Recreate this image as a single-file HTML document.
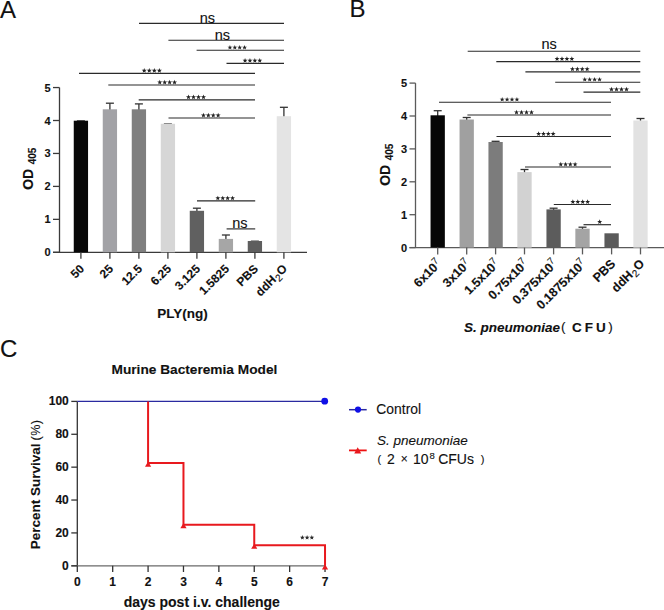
<!DOCTYPE html>
<html><head><meta charset="utf-8"><style>
html,body{margin:0;padding:0;background:#fff;}
svg{display:block;}
text{font-family:"Liberation Sans", sans-serif;}
svg text{stroke:#111;stroke-width:0.12;}
</style></head><body>
<svg width="664" height="610" viewBox="0 0 664 610">
<rect width="664" height="610" fill="#fff"/>
<text x="0" y="18" font-size="24" fill="#111">A</text>
<text x="349.5" y="17.2" font-size="24" fill="#111">B</text>
<text x="0" y="357.4" font-size="24" fill="#111">C</text>
<g stroke="#3a3a3a" stroke-width="1.3" fill="none">
<line x1="59.5" y1="87.55" x2="59.5" y2="252.3"/>
<line x1="53" y1="252.3" x2="307" y2="252.3"/>
<line x1="53" y1="252.30" x2="59.5" y2="252.30"/>
<line x1="53" y1="219.35" x2="59.5" y2="219.35"/>
<line x1="53" y1="186.40" x2="59.5" y2="186.40"/>
<line x1="53" y1="153.45" x2="59.5" y2="153.45"/>
<line x1="53" y1="120.50" x2="59.5" y2="120.50"/>
<line x1="53" y1="87.55" x2="59.5" y2="87.55"/>
</g>
<g font-size="11" font-weight="bold" fill="#111" text-anchor="end">
<text x="50.5" y="256.30">0</text>
<text x="50.5" y="223.35">1</text>
<text x="50.5" y="190.40">2</text>
<text x="50.5" y="157.45">3</text>
<text x="50.5" y="124.50">4</text>
<text x="50.5" y="91.55">5</text>
</g>
<line x1="76.90" y1="120.7" x2="84.90" y2="120.7" stroke="#444" stroke-width="1"/>
<rect x="73.75" y="120.7" width="14.3" height="131.60" fill="#080808"/>
<g stroke="#333" stroke-width="1.3"><line x1="109.90" y1="103.2" x2="109.90" y2="110.3"/><line x1="105.90" y1="103.2" x2="113.90" y2="103.2"/></g>
<rect x="102.75" y="109.3" width="14.3" height="143.00" fill="#a2a2a6"/>
<g stroke="#333" stroke-width="1.3"><line x1="138.90" y1="103.9" x2="138.90" y2="110.3"/><line x1="134.90" y1="103.9" x2="142.90" y2="103.9"/></g>
<rect x="131.75" y="109.3" width="14.3" height="143.00" fill="#7f7f7f"/>
<line x1="163.90" y1="123.8" x2="171.90" y2="123.8" stroke="#444" stroke-width="1"/>
<rect x="160.75" y="123.8" width="14.3" height="128.50" fill="#d6d6d6"/>
<g stroke="#333" stroke-width="1.3"><line x1="196.90" y1="208.2" x2="196.90" y2="211.8"/><line x1="192.90" y1="208.2" x2="200.90" y2="208.2"/></g>
<rect x="189.75" y="210.8" width="14.3" height="41.50" fill="#606060"/>
<g stroke="#333" stroke-width="1.3"><line x1="225.90" y1="235.0" x2="225.90" y2="239.9"/><line x1="221.90" y1="235.0" x2="229.90" y2="235.0"/></g>
<rect x="218.75" y="238.9" width="14.3" height="13.40" fill="#a6a6a6"/>
<line x1="250.90" y1="241.0" x2="258.90" y2="241.0" stroke="#444" stroke-width="1"/>
<rect x="247.75" y="241.0" width="14.3" height="11.30" fill="#5e5e5e"/>
<g stroke="#333" stroke-width="1.3"><line x1="283.90" y1="107.3" x2="283.90" y2="117.2"/><line x1="279.90" y1="107.3" x2="287.90" y2="107.3"/></g>
<rect x="276.75" y="116.2" width="14.3" height="136.10" fill="#e4e4e4"/>
<g stroke="#3a3a3a" stroke-width="1.3">
<line x1="80.90" y1="252.3" x2="80.90" y2="258.7"/>
<line x1="109.90" y1="252.3" x2="109.90" y2="258.7"/>
<line x1="138.90" y1="252.3" x2="138.90" y2="258.7"/>
<line x1="167.90" y1="252.3" x2="167.90" y2="258.7"/>
<line x1="196.90" y1="252.3" x2="196.90" y2="258.7"/>
<line x1="225.90" y1="252.3" x2="225.90" y2="258.7"/>
<line x1="254.90" y1="252.3" x2="254.90" y2="258.7"/>
<line x1="283.90" y1="252.3" x2="283.90" y2="258.7"/>
</g>
<line x1="139" y1="23.4" x2="284" y2="23.4" stroke="#2a2a2a" stroke-width="1.15"/>
<text x="207.35" y="22.80" font-size="14.5" text-anchor="middle" fill="#111">ns</text>
<line x1="168.4" y1="40.2" x2="284" y2="40.2" stroke="#2a2a2a" stroke-width="1.15"/>
<text x="222.40" y="39.60" font-size="14.5" text-anchor="middle" fill="#111">ns</text>
<line x1="196.6" y1="50.2" x2="284" y2="50.2" stroke="#2a2a2a" stroke-width="1.15"/>
<g fill="#222"><polygon points="229.94,44.96 230.57,46.66 232.38,46.73 230.96,47.86 231.44,49.60 229.94,48.60 228.43,49.60 228.91,47.86 227.50,46.73 229.30,46.66"/><polygon points="234.81,44.96 235.45,46.66 237.25,46.73 235.84,47.86 236.32,49.60 234.81,48.60 233.31,49.60 233.79,47.86 232.38,46.73 234.18,46.66"/><polygon points="239.69,44.96 240.32,46.66 242.12,46.73 240.71,47.86 241.19,49.60 239.69,48.60 238.18,49.60 238.66,47.86 237.25,46.73 239.05,46.66"/><polygon points="244.56,44.96 245.20,46.66 247.00,46.73 245.59,47.86 246.07,49.60 244.56,48.60 243.06,49.60 243.54,47.86 242.12,46.73 243.93,46.66"/></g>
<line x1="226.5" y1="63.3" x2="284" y2="63.3" stroke="#2a2a2a" stroke-width="1.15"/>
<g fill="#222"><polygon points="245.05,58.04 245.69,59.74 247.50,59.82 246.08,60.95 246.56,62.70 245.05,61.70 243.54,62.70 244.02,60.95 242.60,59.82 244.41,59.74"/><polygon points="249.95,58.04 250.59,59.74 252.40,59.82 250.98,60.95 251.46,62.70 249.95,61.70 248.44,62.70 248.92,60.95 247.50,59.82 249.31,59.74"/><polygon points="254.85,58.04 255.49,59.74 257.30,59.82 255.88,60.95 256.36,62.70 254.85,61.70 253.34,62.70 253.82,60.95 252.40,59.82 254.21,59.74"/><polygon points="259.75,58.04 260.39,59.74 262.20,59.82 260.78,60.95 261.26,62.70 259.75,61.70 258.24,62.70 258.72,60.95 257.30,59.82 259.11,59.74"/></g>
<line x1="79" y1="73.3" x2="255" y2="73.3" stroke="#2a2a2a" stroke-width="1.15"/>
<g fill="#222"><polygon points="144.22,67.90 144.88,69.65 146.75,69.73 145.29,70.90 145.79,72.70 144.22,71.67 142.66,72.70 143.16,70.90 141.70,69.73 143.57,69.65"/><polygon points="149.28,67.90 149.93,69.65 151.80,69.73 150.34,70.90 150.84,72.70 149.28,71.67 147.71,72.70 148.21,70.90 146.75,69.73 148.62,69.65"/><polygon points="154.32,67.90 154.98,69.65 156.85,69.73 155.39,70.90 155.89,72.70 154.32,71.67 152.76,72.70 153.26,70.90 151.80,69.73 153.67,69.65"/><polygon points="159.38,67.90 160.03,69.65 161.90,69.73 160.44,70.90 160.94,72.70 159.38,71.67 157.81,72.70 158.31,70.90 156.85,69.73 158.72,69.65"/></g>
<line x1="108.3" y1="85.0" x2="255" y2="85.0" stroke="#2a2a2a" stroke-width="1.15"/>
<g fill="#222"><polygon points="159.76,79.72 160.40,81.43 162.23,81.51 160.80,82.64 161.28,84.40 159.76,83.39 158.24,84.40 158.73,82.64 157.30,81.51 159.12,81.43"/><polygon points="164.69,79.72 165.33,81.43 167.15,81.51 165.72,82.64 166.21,84.40 164.69,83.39 163.17,84.40 163.65,82.64 162.22,81.51 164.05,81.43"/><polygon points="169.61,79.72 170.25,81.43 172.08,81.51 170.65,82.64 171.13,84.40 169.61,83.39 168.09,84.40 168.58,82.64 167.15,81.51 168.97,81.43"/><polygon points="174.54,79.72 175.18,81.43 177.00,81.51 175.57,82.64 176.06,84.40 174.54,83.39 173.02,84.40 173.50,82.64 172.07,81.51 173.90,81.43"/></g>
<line x1="138.7" y1="99.9" x2="255" y2="99.9" stroke="#2a2a2a" stroke-width="1.15"/>
<g fill="#222"><polygon points="188.50,94.54 189.15,96.28 191.00,96.36 189.55,97.51 190.05,99.30 188.50,98.28 186.95,99.30 187.45,97.51 186.00,96.36 187.85,96.28"/><polygon points="193.50,94.54 194.15,96.28 196.00,96.36 194.55,97.51 195.05,99.30 193.50,98.28 191.95,99.30 192.45,97.51 191.00,96.36 192.85,96.28"/><polygon points="198.50,94.54 199.15,96.28 201.00,96.36 199.55,97.51 200.05,99.30 198.50,98.28 196.95,99.30 197.45,97.51 196.00,96.36 197.85,96.28"/><polygon points="203.50,94.54 204.15,96.28 206.00,96.36 204.55,97.51 205.05,99.30 203.50,98.28 201.95,99.30 202.45,97.51 201.00,96.36 202.85,96.28"/></g>
<line x1="168.5" y1="118.0" x2="255" y2="118.0" stroke="#2a2a2a" stroke-width="1.15"/>
<g fill="#222"><polygon points="203.45,112.74 204.09,114.44 205.90,114.52 204.48,115.65 204.96,117.40 203.45,116.40 201.94,117.40 202.42,115.65 201.00,114.52 202.81,114.44"/><polygon points="208.35,112.74 208.99,114.44 210.80,114.52 209.38,115.65 209.86,117.40 208.35,116.40 206.84,117.40 207.32,115.65 205.90,114.52 207.71,114.44"/><polygon points="213.25,112.74 213.89,114.44 215.70,114.52 214.28,115.65 214.76,117.40 213.25,116.40 211.74,117.40 212.22,115.65 210.80,114.52 212.61,114.44"/><polygon points="218.15,112.74 218.79,114.44 220.60,114.52 219.18,115.65 219.66,117.40 218.15,116.40 216.64,117.40 217.12,115.65 215.70,114.52 217.51,114.44"/></g>
<line x1="197" y1="200.9" x2="255.2" y2="200.9" stroke="#2a2a2a" stroke-width="1.15"/>
<g fill="#222"><polygon points="217.85,195.64 218.49,197.34 220.30,197.42 218.88,198.55 219.36,200.30 217.85,199.30 216.34,200.30 216.82,198.55 215.40,197.42 217.21,197.34"/><polygon points="222.75,195.64 223.39,197.34 225.20,197.42 223.78,198.55 224.26,200.30 222.75,199.30 221.24,200.30 221.72,198.55 220.30,197.42 222.11,197.34"/><polygon points="227.65,195.64 228.29,197.34 230.10,197.42 228.68,198.55 229.16,200.30 227.65,199.30 226.14,200.30 226.62,198.55 225.20,197.42 227.01,197.34"/><polygon points="232.55,195.64 233.19,197.34 235.00,197.42 233.58,198.55 234.06,200.30 232.55,199.30 231.04,200.30 231.52,198.55 230.10,197.42 231.91,197.34"/></g>
<line x1="226.6" y1="228.9" x2="255.2" y2="228.9" stroke="#2a2a2a" stroke-width="1.15"/>
<text x="239.90" y="228.30" font-size="14.5" text-anchor="middle" fill="#111">ns</text>
<g font-size="12" font-weight="bold" fill="#111" text-anchor="end">
<text transform="translate(84.90,269.5) rotate(-45)">50</text>
<text transform="translate(113.90,269.5) rotate(-45)">25</text>
<text transform="translate(142.90,269.5) rotate(-45)">12.5</text>
<text transform="translate(171.90,269.5) rotate(-45)">6.25</text>
<text transform="translate(200.90,269.5) rotate(-45)">3.125</text>
<text transform="translate(229.90,269.5) rotate(-45)">1.5825</text>
<text transform="translate(258.90,269.5) rotate(-45)">PBS</text>
<text transform="translate(287.90,269.5) rotate(-45)">ddH<tspan font-weight="normal" font-size="10" dx="0.3" dy="3">2</tspan><tspan dy="-3" dx="0.3">O</tspan></text>
</g>
<text x="157.3" y="318.2" font-size="13.5" font-weight="bold" fill="#111">PLY(ng)</text>
<text transform="translate(33.3,189.8) rotate(-90)" font-size="14" font-weight="bold" fill="#111">OD<tspan font-size="10" dx="4.5" dy="2.7">405</tspan></text>
<g stroke="#5a5a5a" stroke-width="1.3" fill="none">
<line x1="415.5" y1="83.10" x2="415.5" y2="247.6"/>
<line x1="409.5" y1="247.6" x2="664" y2="247.6"/>
<line x1="409.5" y1="247.60" x2="415.5" y2="247.60"/>
<line x1="409.5" y1="214.70" x2="415.5" y2="214.70"/>
<line x1="409.5" y1="181.80" x2="415.5" y2="181.80"/>
<line x1="409.5" y1="148.90" x2="415.5" y2="148.90"/>
<line x1="409.5" y1="116.00" x2="415.5" y2="116.00"/>
<line x1="409.5" y1="83.10" x2="415.5" y2="83.10"/>
</g>
<g font-size="11" font-weight="bold" fill="#111" text-anchor="end">
<text x="407.2" y="251.60">0</text>
<text x="407.2" y="218.70">1</text>
<text x="407.2" y="185.80">2</text>
<text x="407.2" y="152.90">3</text>
<text x="407.2" y="120.00">4</text>
<text x="407.2" y="87.10">5</text>
</g>
<g stroke="#333" stroke-width="1.3"><line x1="437.70" y1="110.7" x2="437.70" y2="116.3"/><line x1="433.70" y1="110.7" x2="441.70" y2="110.7"/></g>
<rect x="430.55" y="115.3" width="14.3" height="132.30" fill="#060606"/>
<g stroke="#333" stroke-width="1.3"><line x1="466.70" y1="117.5" x2="466.70" y2="120.5"/><line x1="462.70" y1="117.5" x2="470.70" y2="117.5"/></g>
<rect x="459.55" y="119.5" width="14.3" height="128.10" fill="#a0a0a0"/>
<g stroke="#333" stroke-width="1.3"><line x1="495.60" y1="141.3" x2="495.60" y2="143.0"/><line x1="491.60" y1="141.3" x2="499.60" y2="141.3"/></g>
<rect x="488.45" y="142.0" width="14.3" height="105.60" fill="#7c7c7c"/>
<g stroke="#333" stroke-width="1.3"><line x1="524.50" y1="169.5" x2="524.50" y2="173.1"/><line x1="520.50" y1="169.5" x2="528.50" y2="169.5"/></g>
<rect x="517.35" y="172.1" width="14.3" height="75.50" fill="#d2d2d2"/>
<g stroke="#333" stroke-width="1.3"><line x1="553.60" y1="208.2" x2="553.60" y2="210.4"/><line x1="549.60" y1="208.2" x2="557.60" y2="208.2"/></g>
<rect x="546.45" y="209.4" width="14.3" height="38.20" fill="#5c5c5c"/>
<g stroke="#333" stroke-width="1.3"><line x1="582.50" y1="227.2" x2="582.50" y2="229.7"/><line x1="578.50" y1="227.2" x2="586.50" y2="227.2"/></g>
<rect x="575.35" y="228.7" width="14.3" height="18.90" fill="#a4a4a4"/>
<rect x="604.45" y="233.3" width="14.3" height="14.30" fill="#5a5a5a"/>
<g stroke="#333" stroke-width="1.3"><line x1="640.50" y1="118.5" x2="640.50" y2="121.5"/><line x1="636.50" y1="118.5" x2="644.50" y2="118.5"/></g>
<rect x="633.35" y="120.5" width="14.3" height="127.10" fill="#e2e2e2"/>
<g stroke="#5a5a5a" stroke-width="1.3">
<line x1="437.70" y1="247.6" x2="437.70" y2="254.4"/>
<line x1="466.70" y1="247.6" x2="466.70" y2="254.4"/>
<line x1="495.60" y1="247.6" x2="495.60" y2="254.4"/>
<line x1="524.50" y1="247.6" x2="524.50" y2="254.4"/>
<line x1="553.60" y1="247.6" x2="553.60" y2="254.4"/>
<line x1="582.50" y1="247.6" x2="582.50" y2="254.4"/>
<line x1="611.60" y1="247.6" x2="611.60" y2="254.4"/>
<line x1="640.50" y1="247.6" x2="640.50" y2="254.4"/>
</g>
<line x1="467.7" y1="51.2" x2="640.3" y2="51.2" stroke="#2a2a2a" stroke-width="1.15"/>
<text x="549.10" y="48.80" font-size="14.5" text-anchor="middle" fill="#111">ns</text>
<line x1="496.3" y1="61.6" x2="640.3" y2="61.6" stroke="#2a2a2a" stroke-width="1.15"/>
<g fill="#222"><polygon points="557.06,56.32 557.70,58.03 559.52,58.11 558.10,59.24 558.58,61.00 557.06,59.99 555.54,61.00 556.03,59.24 554.60,58.11 556.42,58.03"/><polygon points="561.99,56.32 562.63,58.03 564.45,58.11 563.02,59.24 563.51,61.00 561.99,59.99 560.47,61.00 560.95,59.24 559.52,58.11 561.35,58.03"/><polygon points="566.91,56.32 567.55,58.03 569.38,58.11 567.95,59.24 568.43,61.00 566.91,59.99 565.39,61.00 565.88,59.24 564.45,58.11 566.27,58.03"/><polygon points="571.84,56.32 572.48,58.03 574.30,58.11 572.87,59.24 573.36,61.00 571.84,59.99 570.32,61.00 570.80,59.24 569.38,58.11 571.20,58.03"/></g>
<line x1="525.4" y1="71.8" x2="640.3" y2="71.8" stroke="#2a2a2a" stroke-width="1.15"/>
<g fill="#222"><polygon points="572.45,66.54 573.09,68.24 574.90,68.32 573.48,69.45 573.96,71.20 572.45,70.20 570.94,71.20 571.42,69.45 570.00,68.32 571.81,68.24"/><polygon points="577.35,66.54 577.99,68.24 579.80,68.32 578.38,69.45 578.86,71.20 577.35,70.20 575.84,71.20 576.32,69.45 574.90,68.32 576.71,68.24"/><polygon points="582.25,66.54 582.89,68.24 584.70,68.32 583.28,69.45 583.76,71.20 582.25,70.20 580.74,71.20 581.22,69.45 579.80,68.32 581.61,68.24"/><polygon points="587.15,66.54 587.79,68.24 589.60,68.32 588.18,69.45 588.66,71.20 587.15,70.20 585.64,71.20 586.12,69.45 584.70,68.32 586.51,68.24"/></g>
<line x1="555.2" y1="82.2" x2="640.3" y2="82.2" stroke="#2a2a2a" stroke-width="1.15"/>
<g fill="#222"><polygon points="584.76,76.92 585.40,78.63 587.22,78.71 585.80,79.84 586.28,81.60 584.76,80.59 583.24,81.60 583.73,79.84 582.30,78.71 584.12,78.63"/><polygon points="589.69,76.92 590.33,78.63 592.15,78.71 590.72,79.84 591.21,81.60 589.69,80.59 588.17,81.60 588.65,79.84 587.23,78.71 589.05,78.63"/><polygon points="594.61,76.92 595.25,78.63 597.07,78.71 595.65,79.84 596.13,81.60 594.61,80.59 593.09,81.60 593.58,79.84 592.15,78.71 593.97,78.63"/><polygon points="599.54,76.92 600.18,78.63 602.00,78.71 600.57,79.84 601.06,81.60 599.54,80.59 598.02,81.60 598.50,79.84 597.08,78.71 598.90,78.63"/></g>
<line x1="583.5" y1="92.1" x2="640.3" y2="92.1" stroke="#2a2a2a" stroke-width="1.15"/>
<g fill="#222"><polygon points="611.50,86.74 612.15,88.48 614.00,88.56 612.55,89.71 613.05,91.50 611.50,90.48 609.95,91.50 610.45,89.71 609.00,88.56 610.85,88.48"/><polygon points="616.50,86.74 617.15,88.48 619.00,88.56 617.55,89.71 618.05,91.50 616.50,90.48 614.95,91.50 615.45,89.71 614.00,88.56 615.85,88.48"/><polygon points="621.50,86.74 622.15,88.48 624.00,88.56 622.55,89.71 623.05,91.50 621.50,90.48 619.95,91.50 620.45,89.71 619.00,88.56 620.85,88.48"/><polygon points="626.50,86.74 627.15,88.48 629.00,88.56 627.55,89.71 628.05,91.50 626.50,90.48 624.95,91.50 625.45,89.71 624.00,88.56 625.85,88.48"/></g>
<line x1="439" y1="102.2" x2="611" y2="102.2" stroke="#2a2a2a" stroke-width="1.15"/>
<g fill="#222"><polygon points="502.16,96.92 502.80,98.63 504.62,98.71 503.20,99.84 503.68,101.60 502.16,100.59 500.64,101.60 501.13,99.84 499.70,98.71 501.52,98.63"/><polygon points="507.09,96.92 507.73,98.63 509.55,98.71 508.12,99.84 508.61,101.60 507.09,100.59 505.57,101.60 506.05,99.84 504.62,98.71 506.45,98.63"/><polygon points="512.01,96.92 512.65,98.63 514.47,98.71 513.05,99.84 513.53,101.60 512.01,100.59 510.49,101.60 510.98,99.84 509.55,98.71 511.37,98.63"/><polygon points="516.94,96.92 517.58,98.63 519.40,98.71 517.97,99.84 518.46,101.60 516.94,100.59 515.42,101.60 515.90,99.84 514.48,98.71 516.30,98.63"/></g>
<line x1="467.4" y1="115.0" x2="611" y2="115.0" stroke="#2a2a2a" stroke-width="1.15"/>
<g fill="#222"><polygon points="516.50,109.64 517.15,111.38 519.00,111.46 517.55,112.61 518.05,114.40 516.50,113.38 514.95,114.40 515.45,112.61 514.00,111.46 515.85,111.38"/><polygon points="521.50,109.64 522.15,111.38 524.00,111.46 522.55,112.61 523.05,114.40 521.50,113.38 519.95,114.40 520.45,112.61 519.00,111.46 520.85,111.38"/><polygon points="526.50,109.64 527.15,111.38 529.00,111.46 527.55,112.61 528.05,114.40 526.50,113.38 524.95,114.40 525.45,112.61 524.00,111.46 525.85,111.38"/><polygon points="531.50,109.64 532.15,111.38 534.00,111.46 532.55,112.61 533.05,114.40 531.50,113.38 529.95,114.40 530.45,112.61 529.00,111.46 530.85,111.38"/></g>
<line x1="496.5" y1="136.5" x2="611" y2="136.5" stroke="#2a2a2a" stroke-width="1.15"/>
<g fill="#222"><polygon points="538.62,131.29 539.25,132.97 541.05,133.05 539.64,134.17 540.12,135.90 538.62,134.91 537.13,135.90 537.61,134.17 536.20,133.05 538.00,132.97"/><polygon points="543.48,131.29 544.10,132.97 545.90,133.05 544.49,134.17 544.97,135.90 543.48,134.91 541.98,135.90 542.46,134.17 541.05,133.05 542.85,132.97"/><polygon points="548.33,131.29 548.95,132.97 550.75,133.05 549.34,134.17 549.82,135.90 548.33,134.91 546.83,135.90 547.31,134.17 545.90,133.05 547.70,132.97"/><polygon points="553.18,131.29 553.80,132.97 555.60,133.05 554.19,134.17 554.67,135.90 553.18,134.91 551.68,135.90 552.16,134.17 550.75,133.05 552.55,132.97"/></g>
<line x1="525" y1="167.0" x2="611" y2="167.0" stroke="#2a2a2a" stroke-width="1.15"/>
<g fill="#222"><polygon points="560.79,161.86 561.41,163.52 563.18,163.59 561.79,164.69 562.26,166.40 560.79,165.42 559.31,166.40 559.78,164.69 558.40,163.59 560.17,163.52"/><polygon points="565.56,161.86 566.18,163.52 567.95,163.59 566.57,164.69 567.04,166.40 565.56,165.42 564.09,166.40 564.56,164.69 563.17,163.59 564.94,163.52"/><polygon points="570.34,161.86 570.96,163.52 572.73,163.59 571.34,164.69 571.81,166.40 570.34,165.42 568.86,166.40 569.33,164.69 567.95,163.59 569.72,163.52"/><polygon points="575.11,161.86 575.73,163.52 577.50,163.59 576.12,164.69 576.59,166.40 575.11,165.42 573.64,166.40 574.11,164.69 572.72,163.59 574.49,163.52"/></g>
<line x1="553.8" y1="204.5" x2="611" y2="204.5" stroke="#2a2a2a" stroke-width="1.15"/>
<g fill="#222"><polygon points="572.86,199.22 573.50,200.93 575.32,201.01 573.90,202.14 574.38,203.90 572.86,202.89 571.34,203.90 571.83,202.14 570.40,201.01 572.22,200.93"/><polygon points="577.79,199.22 578.43,200.93 580.25,201.01 578.82,202.14 579.31,203.90 577.79,202.89 576.27,203.90 576.75,202.14 575.33,201.01 577.15,200.93"/><polygon points="582.71,199.22 583.35,200.93 585.17,201.01 583.75,202.14 584.23,203.90 582.71,202.89 581.19,203.90 581.68,202.14 580.25,201.01 582.07,200.93"/><polygon points="587.64,199.22 588.28,200.93 590.10,201.01 588.67,202.14 589.16,203.90 587.64,202.89 586.12,203.90 586.60,202.14 585.18,201.01 587.00,200.93"/></g>
<line x1="583.5" y1="224.7" x2="611" y2="224.7" stroke="#2a2a2a" stroke-width="1.15"/>
<g fill="#222"><polygon points="599.70,219.34 600.35,221.08 602.20,221.16 600.75,222.31 601.25,224.10 599.70,223.08 598.15,224.10 598.65,222.31 597.20,221.16 599.05,221.08"/></g>
<g font-size="12.5" font-weight="bold" fill="#111" text-anchor="end">
<text transform="translate(442.20,264.5) rotate(-45)">6x10<tspan font-weight="normal" font-size="9.5" dx="0" dy="-4.5">7</tspan></text>
<text transform="translate(471.20,264.5) rotate(-45)">3x10<tspan font-weight="normal" font-size="9.5" dx="0" dy="-4.5">7</tspan></text>
<text transform="translate(500.10,264.5) rotate(-45)">1.5x10<tspan font-weight="normal" font-size="9.5" dx="0" dy="-4.5">7</tspan></text>
<text transform="translate(529.00,264.5) rotate(-45)">0.75x10<tspan font-weight="normal" font-size="9.5" dx="0" dy="-4.5">7</tspan></text>
<text transform="translate(558.10,264.5) rotate(-45)">0.375x10<tspan font-weight="normal" font-size="9.5" dx="0" dy="-4.5">7</tspan></text>
<text transform="translate(587.00,264.5) rotate(-45)">0.1875x10<tspan font-weight="normal" font-size="9.5" dx="0" dy="-4.5">7</tspan></text>
<text transform="translate(616.10,264.5) rotate(-45)">PBS</text>
<text transform="translate(645.00,264.5) rotate(-45)">ddH<tspan font-weight="normal" font-size="10" dx="0.3" dy="3">2</tspan><tspan dy="-3" dx="0.3">O</tspan></text>
</g>
<text x="464" y="332.2" font-size="13.5" font-weight="bold" fill="#111"><tspan font-style="italic">S. pneumoniae</tspan><tspan font-weight="normal" dx="1" dy="-1.5">(</tspan><tspan dx="6.5" dy="1.5" letter-spacing="3">CFU</tspan><tspan font-weight="normal" dx="-0.5" dy="-1.5">)</tspan></text>
<text transform="translate(390.3,185.8) rotate(-90)" font-size="14" font-weight="bold" fill="#111">OD<tspan font-size="10" dx="4.5" dy="2.4">405</tspan></text>
<text x="194.4" y="373.7" font-size="13.7" font-weight="bold" fill="#111" text-anchor="middle">Murine Bacteremia Model</text>
<g stroke="#333" stroke-width="1.3" fill="none">
<line x1="77.3" y1="401.40" x2="77.3" y2="565.8"/>
<line x1="71.3" y1="565.8" x2="325.5" y2="565.8" stroke="#6a6a6a"/>
<line x1="71.3" y1="565.80" x2="77.3" y2="565.80"/>
<line x1="71.3" y1="532.92" x2="77.3" y2="532.92"/>
<line x1="71.3" y1="500.04" x2="77.3" y2="500.04"/>
<line x1="71.3" y1="467.16" x2="77.3" y2="467.16"/>
<line x1="71.3" y1="434.28" x2="77.3" y2="434.28"/>
<line x1="71.3" y1="401.40" x2="77.3" y2="401.40"/>
<line x1="77.30" y1="565.8" x2="77.30" y2="572"/>
<line x1="112.69" y1="565.8" x2="112.69" y2="572"/>
<line x1="148.08" y1="565.8" x2="148.08" y2="572"/>
<line x1="183.47" y1="565.8" x2="183.47" y2="572"/>
<line x1="218.86" y1="565.8" x2="218.86" y2="572"/>
<line x1="254.25" y1="565.8" x2="254.25" y2="572"/>
<line x1="289.64" y1="565.8" x2="289.64" y2="572"/>
<line x1="325.03" y1="565.8" x2="325.03" y2="572"/>
</g>
<g font-size="12" font-weight="bold" fill="#111" text-anchor="end">
<text x="68.8" y="569.70">0</text>
<text x="68.8" y="536.82">20</text>
<text x="68.8" y="503.94">40</text>
<text x="68.8" y="471.06">60</text>
<text x="68.8" y="438.18">80</text>
<text x="68.8" y="405.30">100</text>
</g>
<g font-size="12" font-weight="bold" fill="#111" text-anchor="middle">
<text x="77.30" y="586.3">0</text>
<text x="112.69" y="586.3">1</text>
<text x="148.08" y="586.3">2</text>
<text x="183.47" y="586.3">3</text>
<text x="218.86" y="586.3">4</text>
<text x="254.25" y="586.3">5</text>
<text x="289.64" y="586.3">6</text>
<text x="325.03" y="586.3">7</text>
</g>
<text x="201.8" y="607" font-size="14" font-weight="bold" fill="#111" text-anchor="middle">days post i.v. challenge</text>
<text transform="translate(40.3,549.3) rotate(-90)" font-size="13.5" font-weight="bold" fill="#111">Percent Survival<tspan font-weight="normal" dx="3" font-size="12.5">(</tspan><tspan font-weight="normal" dx="0.5" font-size="12.5">%</tspan><tspan font-weight="normal" dx="0.5" font-size="12.5">)</tspan></text>
<line x1="77.3" y1="401.4" x2="324.7" y2="401.4" stroke="#2a2aa0" stroke-width="1.2"/>
<circle cx="324.7" cy="401.2" r="3.4" fill="#1010e6"/>
<polyline points="148.08,401.4 148.08,463.05 183.47,463.05 183.47,524.70 254.25,524.70 254.25,545.25 325.03,545.25 325.03,565.8" fill="none" stroke="#e8191e" stroke-width="2"/>
<polygon points="144.98,466.65 151.18,466.65 148.08,461.45" fill="#e8191e"/>
<polygon points="180.37,528.30 186.57,528.30 183.47,523.10" fill="#e8191e"/>
<polygon points="251.15,548.85 257.35,548.85 254.25,543.65" fill="#e8191e"/>
<polygon points="321.93,569.40 328.13,569.40 325.03,564.20" fill="#e8191e"/>
<g fill="#2a2a2a"><polygon points="302.37,535.10 302.98,536.74 304.73,536.82 303.36,537.91 303.83,539.60 302.37,538.63 300.90,539.60 301.37,537.91 300.00,536.82 301.75,536.74"/><polygon points="307.10,535.10 307.71,536.74 309.47,536.82 308.09,537.91 308.56,539.60 307.10,538.63 305.64,539.60 306.11,537.91 304.73,536.82 306.49,536.74"/><polygon points="311.83,535.10 312.45,536.74 314.20,536.82 312.83,537.91 313.30,539.60 311.83,538.63 310.37,539.60 310.84,537.91 309.47,536.82 311.22,536.74"/></g>
<line x1="349" y1="409.7" x2="366.7" y2="409.7" stroke="#2a2aa0" stroke-width="1.5"/>
<circle cx="358" cy="409.6" r="3.1" fill="#1010e6"/>
<text x="376.3" y="413.8" font-size="13.9" fill="#111">Control</text>
<line x1="349" y1="450.4" x2="366.7" y2="450.4" stroke="#ee1111" stroke-width="1.8"/>
<polygon points="354.20,453.60 361.20,453.60 357.70,447.20" fill="#e8191e"/>
<text x="377" y="445.1" font-size="13.5" font-style="italic" fill="#111">S. pneumoniae</text>
<g font-size="14" fill="#111"><text x="377.6" y="463" font-size="11">(</text><text x="387" y="463.9">2</text><text x="400.8" y="463.2" font-size="12">×</text><text x="413" y="463.9">10</text><text x="429.4" y="458.9" font-size="9.5">8</text><text x="438.2" y="463.9">CFUs</text><text x="480.8" y="463" font-size="11">)</text></g>
</svg></body></html>
